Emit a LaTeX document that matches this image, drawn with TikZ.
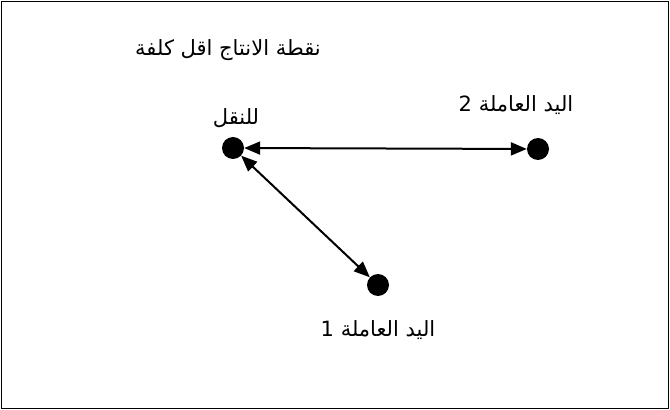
\documentclass[tikz,border=0pt]{standalone}
\usepackage{fontspec}
\newfontfamily\arabicfont[Script=Arabic]{DejaVu Sans}
\TeXXeTstate=1
\usetikzlibrary{arrows.meta}
\tikzset{
  dot/.style={circle,fill=black,inner sep=0pt,minimum size=22pt},
  lab/.style={font=\arabicfont\fontsize{21}{24}\selectfont,inner sep=0pt},
  link/.style={line width=2pt,{Triangle[length=16pt,width=13pt]}-{Triangle[length=16pt,width=13pt]}}
}
\begin{document}
\begin{tikzpicture}[x=1pt,y=1pt]
\useasboundingbox (0,0) rectangle (670,410);
\draw[line width=0.8pt] (1.5,1.5) rectangle (668,408.5);
\node[dot] (p) at (233,262) {};
\node[dot] (l2) at (538,261) {};
\node[dot] (l1) at (378,125) {};
\node[lab] (t1) at (228,360) {\beginR نقطة الانتاج اقل كلفة\endR};
\node[lab] (t2) at (236,292) {\beginR للنقل\endR};
\node[lab] (t3) at (516,305) {\beginR اليد العاملة 2\endR};
\node[lab] (t4) at (378,80) {\beginR اليد العاملة 1\endR};
\draw[link] (p) -- (l2);
\draw[link] (p) -- (l1);
\end{tikzpicture}
\end{document}
